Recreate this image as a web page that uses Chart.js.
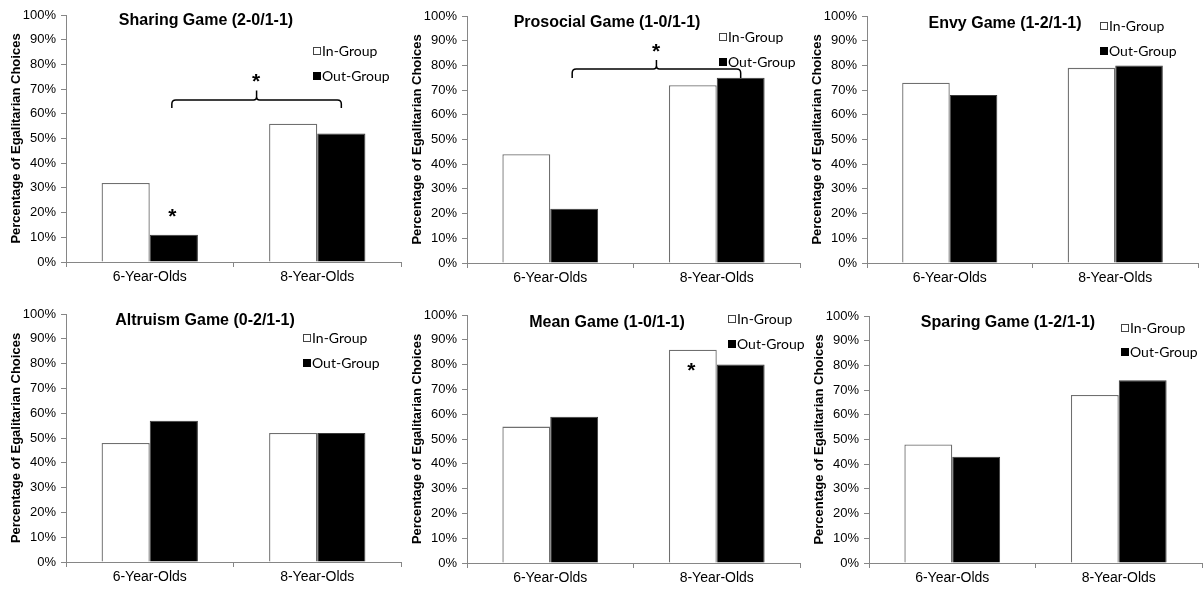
<!DOCTYPE html>
<html>
<head>
<meta charset="utf-8">
<script src="https://cdn.jsdelivr.net/npm/chart.js@4/dist/chart.umd.min.js"></script>
<style>
  html, body { margin: 0; padding: 0; background: #fff; }
  #wrap { position: relative; width: 1203px; height: 589px; overflow: hidden; background: #fff; }
  #wrap canvas { position: absolute; left: 0; top: 0; }
</style>
</head>
<body>
<div id="wrap"></div>
<script>
// ---- Data ----
const categories = ['6-Year-Olds', '8-Year-Olds'];
const seriesNames = ['In-Group', 'Out-Group'];
const gameTitles = ['Sharing Game (2-0/1-1)', 'Prosocial Game (1-0/1-1)', 'Envy Game (1-2/1-1)',
                    'Altruism Game (0-2/1-1)', 'Mean Game (1-0/1-1)', 'Sparing Game (1-2/1-1)'];
const sharingIn = [32, 56];
const sharingOut = [11, 52];
const prosocialIn = [44, 72];
const prosocialOut = [22, 75];
const envyIn = [73, 79];
const envyOut = [68, 80];
const altruismIn = [48, 52];
const altruismOut = [57, 52];
const meanIn = [55, 86];
const meanOut = [59, 80];
const sparingIn = [48, 68];
const sparingOut = [43, 74];
const yTickValues = [0, 10, 20, 30, 40, 50, 60, 70, 80, 90, 100];
const yAxisTitle = 'Percentage of Egalitarian Choices';

// ---- Layout / styling ----
const W = 1203, H = 589, YW = 57, XH = 30;
const panels = [
  { title: gameTitles[0], inV: sharingIn, outV: sharingOut, area: [66, 15, 401, 262], titleX: 206, titleY: 25, legX: 313, legY: [51, 76],
    brackets: [{ ds: 1, from: 0, to: 1, level: 65.6, drop: 62.3, peak: 69.4, star: 74.5 }],
    stars: [{ ds: 1, cat: 0, value: 19.8 }] },
  { title: gameTitles[1], inV: prosocialIn, outV: prosocialOut, area: [467, 16, 800, 263], titleX: 607, titleY: 27, legX: 719, legY: [37, 62],
    brackets: [{ ds: 1, from: 0, to: 1, level: 78.5, drop: 74.9, peak: 82.2, star: 87 }], stars: [] },
  { title: gameTitles[2], inV: envyIn, outV: envyOut, area: [867, 16, 1198, 263], titleX: 1005, titleY: 28, legX: 1100, legY: [26, 51],
    brackets: [], stars: [] },
  { title: gameTitles[3], inV: altruismIn, outV: altruismOut, area: [66, 314, 401, 562], titleX: 205, titleY: 325, legX: 303, legY: [338, 363],
    brackets: [], stars: [] },
  { title: gameTitles[4], inV: meanIn, outV: meanOut, area: [467, 315, 800, 563], titleX: 607, titleY: 327, legX: 728, legY: [319, 344],
    brackets: [], stars: [{ ds: 0, cat: 1, value: 79 }] },
  { title: gameTitles[5], inV: sparingIn, outV: sparingOut, area: [869, 316, 1202, 563], titleX: 1008, titleY: 327, legX: 1121, legY: [328, 352],
    brackets: [], stars: [] }
];

const AXIS = '#868686';

function drawStar(ctx, cx, cy) {
  ctx.font = 'bold 21px "Liberation Sans", Arial, sans-serif';
  ctx.textAlign = 'left';
  ctx.textBaseline = 'alphabetic';
  const m = ctx.measureText('*');
  const x = cx - (m.actualBoundingBoxRight - m.actualBoundingBoxLeft) / 2;
  const y = cy + (m.actualBoundingBoxAscent - m.actualBoundingBoxDescent) / 2;
  ctx.fillStyle = '#000';
  ctx.fillText('*', x, y);
}

const decor = {
  id: 'decor',
  afterDraw(chart, args, o) {
    const ctx = chart.ctx;
    const ys = chart.scales.y;
    ctx.save();
    // title
    ctx.font = 'bold 16px "Liberation Sans", Arial, sans-serif';
    ctx.fillStyle = '#000';
    ctx.textAlign = 'center';
    ctx.textBaseline = 'alphabetic';
    ctx.fillText(o.title, o.titleX, o.titleY);
    // legend
    chart.data.datasets.forEach((ds, i) => {
      const cy = o.legY[i];
      ctx.fillStyle = ds.backgroundColor;
      ctx.fillRect(o.legX, cy - 4, 8, 8);
      ctx.strokeStyle = i === 0 ? '#444' : '#000';
      ctx.lineWidth = 1;
      ctx.strokeRect(o.legX + 0.5, cy - 3.5, 7, 7);
      ctx.fillStyle = '#000';
      ctx.font = '14px Lato, "Liberation Sans", sans-serif';
      ctx.textAlign = 'left';
      ctx.textBaseline = 'middle';
      ctx.fillText(ds.label, o.legX + 9, cy + 0.5);
    });
    // brackets
    (o.brackets || []).forEach(b => {
      const meta = chart.getDatasetMeta(b.ds);
      const L = meta.data[b.from].x - 2, R = meta.data[b.to].x;
      const C = (L + R) / 2;
      const yH = ys.getPixelForValue(b.level);
      const yD = ys.getPixelForValue(b.drop);
      const yP = ys.getPixelForValue(b.peak);
      const r = 4;
      ctx.strokeStyle = '#000';
      ctx.lineWidth = 1.5;
      ctx.beginPath();
      ctx.moveTo(L, yD);
      ctx.lineTo(L, yH + r);
      ctx.quadraticCurveTo(L, yH, L + r, yH);
      ctx.lineTo(C - 3, yH);
      ctx.quadraticCurveTo(C, yH, C, yH - 3);
      ctx.lineTo(C, yP);
      ctx.moveTo(C, yH - 3);
      ctx.quadraticCurveTo(C, yH, C + 3, yH);
      ctx.lineTo(R - r, yH);
      ctx.quadraticCurveTo(R, yH, R, yH + r);
      ctx.lineTo(R, yD);
      ctx.stroke();
      drawStar(ctx, C, ys.getPixelForValue(b.star));
    });
    (o.stars || []).forEach(s => {
      const el = chart.getDatasetMeta(s.ds).data[s.cat];
      drawStar(ctx, el.x - 1, ys.getPixelForValue(s.value));
    });
    ctx.restore();
  }
};

const wrap = document.getElementById('wrap');
panels.forEach(p => {
  const cv = document.createElement('canvas');
  cv.width = W; cv.height = H;
  cv.style.width = W + 'px'; cv.style.height = H + 'px';
  wrap.appendChild(cv);
  const [l, t, r, b] = p.area;
  new Chart(cv, {
    type: 'bar',
    data: {
      labels: categories,
      datasets: [
        { label: seriesNames[0], data: p.inV, backgroundColor: '#ffffff', borderColor: '#6f6f6f', borderWidth: 1.3 },
        { label: seriesNames[1], data: p.outV, backgroundColor: '#000000', borderColor: '#3a3a3a', borderWidth: 1 }
      ]
    },
    options: {
      responsive: false,
      animation: false,
      devicePixelRatio: 1,
      layout: { padding: { left: l - YW, top: t, right: W - r, bottom: H - b - XH } },
      datasets: { bar: { categoryPercentage: 0.575, barPercentage: 1 } },
      plugins: {
        legend: { display: false },
        title: { display: false },
        tooltip: { enabled: false },
        decor: { title: p.title, titleX: p.titleX, titleY: p.titleY, legX: p.legX, legY: p.legY, brackets: p.brackets, stars: p.stars }
      },
      scales: {
        x: {
          afterFit(s) { s.height = XH; },
          grid: { display: true, drawOnChartArea: false, offset: true, tickLength: 5, color: AXIS, lineWidth: 1 },
          border: { display: true, color: AXIS, width: 1 },
          ticks: { color: '#000', padding: 2, font: { family: '"Liberation Sans", Arial, sans-serif', size: 14 }, maxRotation: 0 }
        },
        y: {
          min: 0, max: 100,
          afterFit(s) { s.width = YW; },
          afterBuildTicks(s) { s.ticks = yTickValues.map(v => ({ value: v })); },
          grid: { display: true, drawOnChartArea: false, tickLength: 5, color: AXIS, lineWidth: 1 },
          border: { display: true, color: AXIS, width: 1 },
          ticks: { color: '#000', padding: 5, font: { family: '"Liberation Sans", Arial, sans-serif', size: 13 },
                   callback: v => v + '%' },
          title: { display: true, text: yAxisTitle, color: '#000', padding: 0,
                   font: { family: '"Liberation Sans", Arial, sans-serif', size: 13, weight: 'bold' } }
        }
      }
    },
    plugins: [decor]
  });
});
</script>
</body>
</html>
